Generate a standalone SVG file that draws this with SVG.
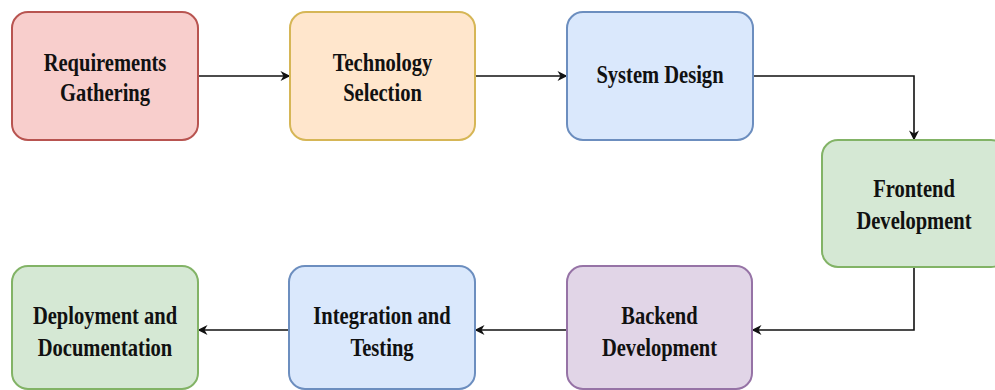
<svg xmlns="http://www.w3.org/2000/svg" width="995" height="390" viewBox="0 0 995 390">
  <defs>
    <style>
      .box { stroke-width: 2; }
      .red { fill: #f8cecc; stroke: #b85450; }
      .orange { fill: #ffe6cc; stroke: #d6b656; }
      .blue { fill: #dae8fc; stroke: #6c8ebf; }
      .green { fill: #d5e8d4; stroke: #82b366; }
      .purple { fill: #e1d5e7; stroke: #9673a6; }
      .label { font-family: "Liberation Serif", "Times New Roman", serif; font-weight: bold; font-size: 26px; fill: #111; text-anchor: middle; }
      .edge { fill: none; stroke: #111; stroke-width: 1.6; marker-end: url(#arrow); }
    </style>
    <marker id="arrow" viewBox="0 0 10 10" refX="9.5" refY="5" markerWidth="11" markerHeight="10" markerUnits="userSpaceOnUse" orient="auto">
      <path d="M0,0 L10,5 L0,10 L3,5 Z" fill="#111"/>
    </marker>
  </defs>
  <rect width="995" height="390" fill="#ffffff"/>

  <g id="connectors">
    <path class="edge" d="M198,76 L290,76"/>
    <path class="edge" d="M475,76 L567,76"/>
    <path class="edge" d="M753,76 L914,76 L914,140"/>
    <path class="edge" d="M914,267 L914,330 L752,330"/>
    <path class="edge" d="M567,330 L475,330"/>
    <path class="edge" d="M289,330 L198,330"/>
  </g>

  <g id="requirements-gathering">
    <rect class="box red" x="12" y="12" width="186" height="128" rx="16"/>
    <g transform="translate(105,0) scale(0.79,1)">
      <text class="label" x="0" y="71">Requirements</text>
      <text class="label" x="0" y="101">Gathering</text>
    </g>
  </g>

  <g id="technology-selection">
    <rect class="box orange" x="290" y="12" width="185" height="128" rx="16"/>
    <g transform="translate(382.5,0) scale(0.79,1)">
      <text class="label" x="0" y="71">Technology</text>
      <text class="label" x="0" y="101">Selection</text>
    </g>
  </g>

  <g id="system-design">
    <rect class="box blue" x="567" y="12" width="186" height="128" rx="16"/>
    <g transform="translate(660,0) scale(0.79,1)">
      <text class="label" x="0" y="83">System Design</text>
    </g>
  </g>

  <g id="frontend-development">
    <rect class="box green" x="822" y="140" width="185" height="127" rx="16"/>
    <g transform="translate(914,0) scale(0.79,1)">
      <text class="label" x="0" y="197">Frontend</text>
      <text class="label" x="0" y="229">Development</text>
    </g>
  </g>

  <g id="backend-development">
    <rect class="box purple" x="567" y="266" width="185" height="123" rx="16"/>
    <g transform="translate(659.5,0) scale(0.79,1)">
      <text class="label" x="0" y="324">Backend</text>
      <text class="label" x="0" y="356">Development</text>
    </g>
  </g>

  <g id="integration-testing">
    <rect class="box blue" x="289" y="266" width="186" height="123" rx="16"/>
    <g transform="translate(382,0) scale(0.79,1)">
      <text class="label" x="0" y="324">Integration and</text>
      <text class="label" x="0" y="356">Testing</text>
    </g>
  </g>

  <g id="deployment-documentation">
    <rect class="box green" x="12" y="266" width="186" height="123" rx="16"/>
    <g transform="translate(105,0) scale(0.79,1)">
      <text class="label" x="0" y="324">Deployment and</text>
      <text class="label" x="0" y="356">Documentation</text>
    </g>
  </g>
</svg>
